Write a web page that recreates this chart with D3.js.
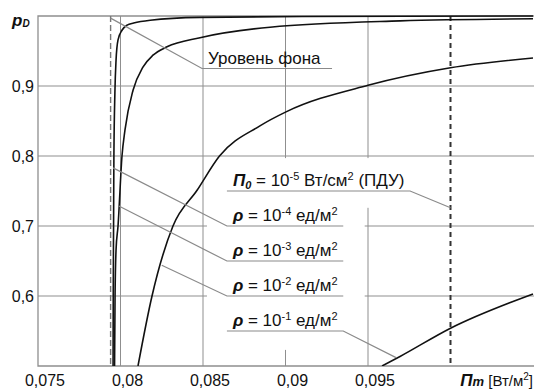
<!DOCTYPE html>
<html>
<head>
<meta charset="utf-8">
<script src="https://cdn.jsdelivr.net/npm/d3@7"></script>
<style>
  body { margin: 0; background: #fff; }
  text { font-family: Arial, "Liberation Sans", sans-serif; fill: #111; }
</style>
</head>
<body>
<div id="chart"></div>
<script>
// axis ticks
const xTicks = [0.075, 0.08, 0.085, 0.09, 0.095];
const xGrid = [0.08, 0.085, 0.09, 0.095];
const yTicks = [0.6, 0.7, 0.8, 0.9];

// vertical reference lines
const backgroundLevel = 0.0794;   // уровень фона
const pduLevel = 0.1;             // ПДУ, 10^-5 Вт/см2

// detection probability curves, [Пm, pD]
const rho1e4 = [[0.07955, 0.5], [0.07956, 0.6], [0.07958, 0.7], [0.0796, 0.8], [0.07966, 0.89],
  [0.07973, 0.937], [0.07985, 0.966], [0.0801, 0.98], [0.0804, 0.987], [0.0808, 0.99],
  [0.0818, 0.994], [0.0848, 0.998], [0.091, 0.9993], [0.105, 1.0]];
const rho1e3 = [[0.07964, 0.5], [0.07967, 0.6], [0.07973, 0.666], [0.07985, 0.7], [0.08009, 0.8],
  [0.08027, 0.837], [0.08076, 0.894], [0.08136, 0.927], [0.08197, 0.944], [0.08282, 0.956],
  [0.08482, 0.969], [0.08906, 0.984], [0.09694, 0.993], [0.105, 0.996]];
const rho1e2 = [[0.08106, 0.5], [0.08191, 0.6], [0.08318, 0.7], [0.08464, 0.751], [0.086, 0.8],
  [0.08845, 0.843], [0.09003, 0.863], [0.095, 0.901], [0.1, 0.926], [0.105, 0.94]];
const rho1e1 = [[0.09585, 0.5], [0.09694, 0.5136], [0.1, 0.554], [0.105, 0.603]];

// annotations: point on the mark -> underline [x0, x1] at y
const notes = [
  { exp: "-4", from: [0.07955, 0.783], line: [0.08645, 0.0935], y: 0.7 },
  { exp: "-3", from: [0.0799, 0.7286], line: [0.08645, 0.0935], y: 0.65 },
  { exp: "-2", from: [0.0825, 0.644], line: [0.08645, 0.0935], y: 0.6 },
  { exp: "-1", from: [0.0967, 0.512], line: [0.08645, 0.0935], y: 0.55, right: true }
];

const W = 534, H = 389;
const x = d3.scaleLinear().domain([0.075, 0.105]).range([38, 533]);
const y = d3.scaleLinear().domain([0.5, 1.0]).range([366, 16]);

const svg = d3.select("#chart").append("svg")
  .attr("width", W).attr("height", H);
svg.append("rect").attr("width", W).attr("height", H).attr("fill", "#fff");

const gridColor = "#8f8f8f";

// grid
svg.append("g").selectAll("line").data(xGrid).join("line")
  .attr("x1", d => x(d)).attr("x2", d => x(d))
  .attr("y1", y(1)).attr("y2", y(0.5))
  .attr("stroke", gridColor).attr("stroke-width", 1);
svg.append("g").selectAll("line").data(yTicks).join("line")
  .attr("x1", x(0.075)).attr("x2", W)
  .attr("y1", d => y(d)).attr("y2", d => y(d))
  .attr("stroke", gridColor).attr("stroke-width", 1);

// frame
svg.append("path")
  .attr("d", `M${W},${y(1)}H${x(0.075)}V${y(0.5)}H${W}`)
  .attr("fill", "none").attr("stroke", gridColor).attr("stroke-width", 1.3);

// white boxes behind the labels
svg.append("rect")
  .attr("x", x(0.08524)).attr("y", y(0.744))
  .attr("width", x(0.0948) - x(0.08524)).attr("height", y(0.523) - y(0.744))
  .attr("fill", "#fff");
svg.append("rect")
  .attr("x", x(0.08603)).attr("y", y(0.797))
  .attr("width", x(0.09815) - x(0.08603)).attr("height", y(0.726) - y(0.797))
  .attr("fill", "#fff");

// reference lines
svg.append("line")
  .attr("x1", x(backgroundLevel)).attr("x2", x(backgroundLevel))
  .attr("y1", y(1)).attr("y2", y(0.5))
  .attr("stroke", "#777").attr("stroke-width", 1.4).attr("stroke-dasharray", "6,3");
svg.append("line")
  .attr("x1", x(pduLevel)).attr("x2", x(pduLevel))
  .attr("y1", y(1)).attr("y2", y(0.5))
  .attr("stroke", "#333").attr("stroke-width", 2).attr("stroke-dasharray", "5,4");

// curves
svg.append("clipPath").attr("id", "plot")
  .append("rect").attr("x", x(0.075)).attr("y", y(1) - 2)
  .attr("width", W - x(0.075)).attr("height", y(0.5) - y(1) + 2);

const line = d3.line()
  .x(d => x(d[0])).y(d => y(d[1]))
  .curve(d3.curveMonotoneX);

svg.append("g").attr("clip-path", "url(#plot)")
  .selectAll("path").data([rho1e4, rho1e3, rho1e2, rho1e1]).join("path")
  .attr("d", line)
  .attr("fill", "none").attr("stroke", "#111").attr("stroke-width", 1.6);

// rich text helper
function richText(g, px, py, parts, anchor) {
  const t = g.append("text").attr("x", px).attr("y", py)
    .attr("text-anchor", anchor || "start").style("white-space", "pre");
  let cur = 0;
  parts.forEach(p => {
    const s = p.shift || 0;
    t.append("tspan")
      .attr("dy", s - cur)
      .attr("font-size", p.size || 17)
      .attr("font-weight", p.bold ? "bold" : null)
      .attr("font-style", p.italic ? "italic" : null)
      .text(p.t);
    cur = s;
  });
  return t;
}

const leaderColor = "#8a8a8a";

// "Уровень фона"
svg.append("polyline")
  .attr("points", [[x(backgroundLevel), y(0.997)], [x(0.08494), y(0.925)], [x(0.09282), y(0.925)]].join(" "))
  .attr("fill", "none").attr("stroke", leaderColor).attr("stroke-width", 1.2);
richText(svg, x(0.08494) + 6, y(0.925) - 5, [{ t: "Уровень фона", size: 17 }]);

// П0 (ПДУ)
svg.append("polyline")
  .attr("points", [[x(0.08645), y(0.75)], [x(0.09755), y(0.75)], [x(pduLevel), y(0.726)]].join(" "))
  .attr("fill", "none").attr("stroke", leaderColor).attr("stroke-width", 1.2);
richText(svg, x(0.08645) + 6, y(0.75) - 5, [
  { t: "П", bold: true, italic: true, size: 17 },
  { t: "0", bold: true, italic: true, size: 11, shift: 3 },
  { t: " = 10", size: 17 },
  { t: "-5", size: 11, shift: -6 },
  { t: " Вт/см", size: 17 },
  { t: "2", size: 11, shift: -6 },
  { t: " (ПДУ)", size: 17 }
]);

// ρ labels
notes.forEach(n => {
  const pts = n.right
    ? [[x(n.line[0]), y(n.y)], [x(n.line[1]), y(n.y)], [x(n.from[0]), y(n.from[1])]]
    : [[x(n.from[0]), y(n.from[1])], [x(n.line[0]), y(n.y)], [x(n.line[1]), y(n.y)]];
  svg.append("polyline").attr("points", pts.join(" "))
    .attr("fill", "none").attr("stroke", leaderColor).attr("stroke-width", 1.2);
  richText(svg, x(n.line[0]) + 6, y(n.y) - 5, [
    { t: "ρ", bold: true, italic: true, size: 17 },
    { t: " = 10", size: 17 },
    { t: n.exp, size: 11, shift: -6 },
    { t: " ед/м", size: 17 },
    { t: "2", size: 11, shift: -6 }
  ]);
});

// tick labels
const fmt = d => String(d).replace(".", ",");
svg.append("g").selectAll("text").data(xTicks).join("text")
  .attr("x", d => x(d) + 7).attr("y", 386)
  .attr("text-anchor", "middle").attr("font-size", 16)
  .text(fmt);
svg.append("g").selectAll("text").data(yTicks).join("text")
  .attr("x", 34).attr("y", d => y(d)).attr("dy", "0.36em")
  .attr("text-anchor", "end").attr("font-size", 16)
  .text(fmt);

// axis titles
richText(svg, 12, 26, [
  { t: "p", bold: true, italic: true, size: 17 },
  { t: "D", bold: true, italic: true, size: 10, shift: 1 }
]);
richText(svg, 533, 386, [
  { t: "П", bold: true, italic: true, size: 17 },
  { t: "m", bold: true, italic: true, size: 13 },
  { t: " [Вт/м", size: 15 },
  { t: "2", size: 10, shift: -6 },
  { t: "]", size: 15 }
], "end");
</script>
</body>
</html>
